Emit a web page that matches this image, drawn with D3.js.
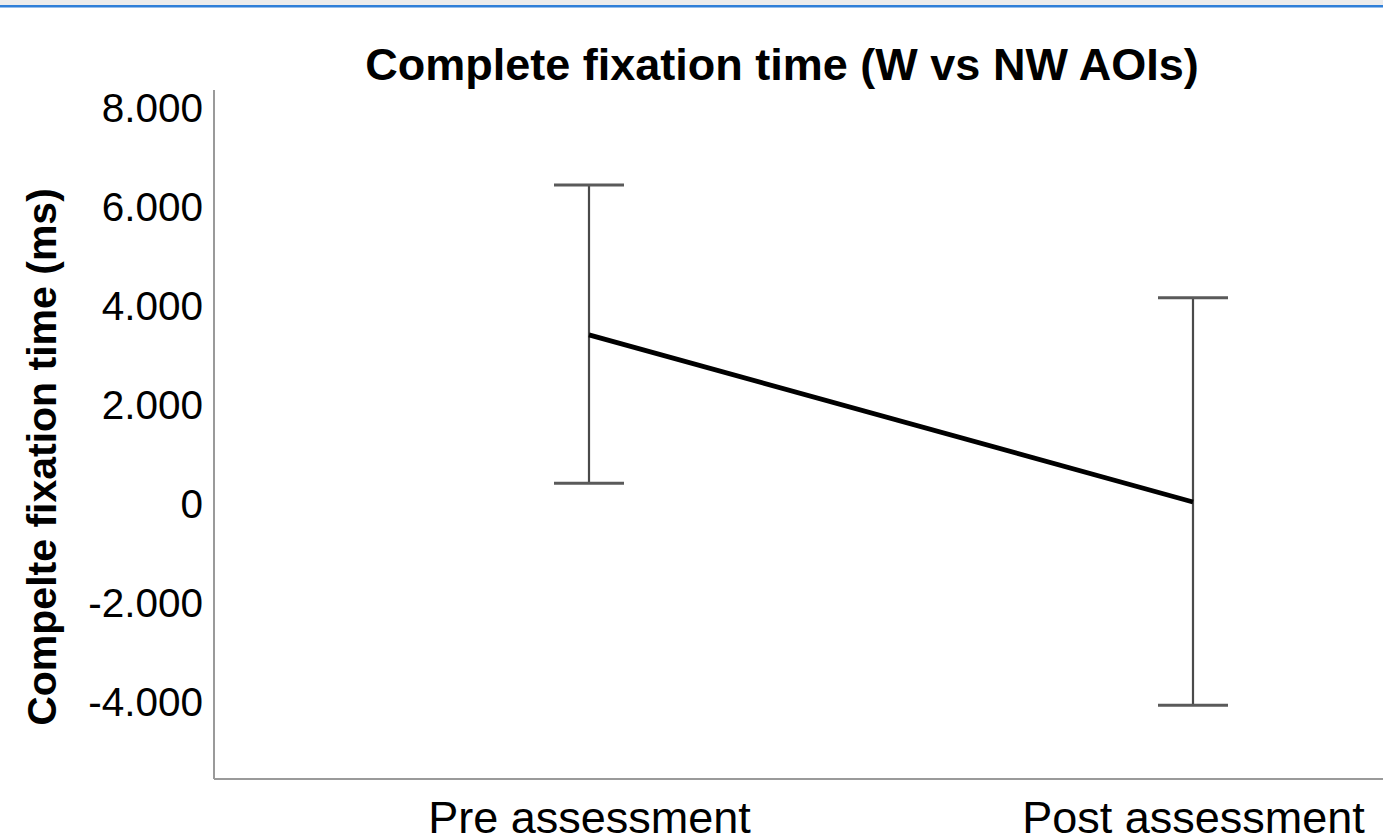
<!DOCTYPE html>
<html>
<head>
<meta charset="utf-8">
<script src="https://cdn.jsdelivr.net/npm/d3@7"></script>
<style>
html,body{margin:0;padding:0;background:#fff;}
svg{display:block;}
text{font-family:"Liberation Sans",Arial,sans-serif;fill:#000;}
</style>
</head>
<body>
<svg id="chart" width="1383" height="840"></svg>
<script>
const categories = ["Pre assessment", "Post assessment"];
const means = [3400, 20];
const upper = [6430, 4150];
const lower = [400, -4090];
const yTicks = [-4000, -2000, 0, 2000, 4000, 6000, 8000];
const title = "Complete fixation time (W vs NW AOIs)";
const yTitle = "Compelte fixation time (ms)";

const svg = d3.select("#chart");
const W = 1383, H = 840;

// window top band
svg.append("rect").attr("x",0).attr("y",0).attr("width",W).attr("height",5).attr("fill","#ececec");
svg.append("rect").attr("x",0).attr("y",5).attr("width",W).attr("height",2.5).attr("fill","#2f7fd8");

const plotLeft = 214, plotRight = 1383, plotTop = 90, plotBottom = 779;

const y = d3.scaleLinear().domain([-5580, 8350]).range([plotBottom, plotTop]);
const x = d3.scalePoint().domain(categories).range([589, 1193]);

const fmt = v => v === 0 ? "0" : (v < 0 ? "-" : "") + d3.format(",")(Math.abs(v)).replace(/,/g, ".");

// axes
const yAxis = d3.axisLeft(y).tickValues(yTicks).tickFormat(fmt).tickSize(0).tickPadding(11);
const gy = svg.append("g").attr("transform", `translate(${plotLeft},0)`).call(yAxis);
gy.select(".domain").remove();
gy.selectAll("text").style("font-size","40.5px").attr("dy","0.36em");

svg.append("line").attr("x1",plotLeft).attr("x2",plotLeft).attr("y1",plotTop).attr("y2",plotBottom)
  .attr("stroke","#9a9a9a").attr("stroke-width",2);
svg.append("line").attr("x1",plotLeft).attr("x2",plotRight).attr("y1",plotBottom).attr("y2",plotBottom)
  .attr("stroke","#9a9a9a").attr("stroke-width",2);

const xAxis = d3.axisBottom(x).tickSize(0).tickPadding(0);
const gx = svg.append("g").attr("transform", `translate(0,${plotBottom})`).call(xAxis);
gx.select(".domain").remove();
gx.selectAll("text").style("font-size","45px").attr("dy",null).attr("y",54);

// error bars
const capHalf = 35;
const eb = svg.append("g");
categories.forEach((c,i) => {
  const cx = x(c);
  eb.append("line").attr("x1",cx).attr("x2",cx).attr("y1",y(upper[i])).attr("y2",y(lower[i]))
    .attr("stroke","#4a4a4a").attr("stroke-width",2.2);
  [upper[i], lower[i]].forEach(v => {
    eb.append("line").attr("x1",cx-capHalf).attr("x2",cx+capHalf).attr("y1",y(v)).attr("y2",y(v))
      .attr("stroke","#5a5a5a").attr("stroke-width",3);
  });
});

// mean line
const line = d3.line().x((d,i)=>x(categories[i])).y(d=>y(d));
svg.append("path").datum(means).attr("d", line).attr("fill","none")
  .attr("stroke","#000").attr("stroke-width",4.8);

// titles
svg.append("text").attr("x",782).attr("y",80).attr("text-anchor","middle")
  .style("font-size","45px").style("font-weight","bold").text(title);

svg.append("text").attr("transform",`translate(56,${457}) rotate(-90)`).attr("text-anchor","middle")
  .style("font-size","41px").style("font-weight","bold").text(yTitle);
</script>
</body>
</html>
